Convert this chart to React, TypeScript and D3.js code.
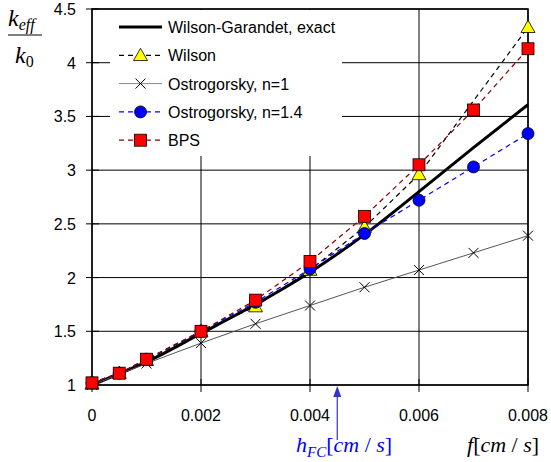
import React from "react";
import * as d3 from "d3";

const fValues = [0, 0.0005, 0.001, 0.002, 0.003, 0.004, 0.005, 0.006, 0.007, 0.008];
const exactValues = [1.0, 1.105, 1.215, 1.48, 1.75, 2.05, 2.4, 2.8, 3.21, 3.61];
const wilsonF = [0, 0.0005, 0.001, 0.002, 0.003, 0.004, 0.005, 0.006, 0.008];
const wilsonValues = [1.01, 1.11, 1.23, 1.5, 1.73, 2.07, 2.47, 2.96, 4.33];
const ostro1Values = [1.0, 1.1, 1.2, 1.39, 1.57, 1.74, 1.91, 2.07, 2.23, 2.39];
const ostro14Values = [1.02, 1.11, 1.24, 1.5, 1.77, 2.08, 2.41, 2.72, 3.03, 3.34];
const bpsValues = [1.02, 1.11, 1.24, 1.5, 1.79, 2.15, 2.57, 3.05, 3.56, 4.13];
const xTicks = [0, 0.002, 0.004, 0.006, 0.008];
const xTickLabels = ["0", "0.002", "0.004", "0.006", "0.008"];
const yTicks = [1, 1.5, 2, 2.5, 3, 3.5, 4, 4.5];
const yTickLabels = ["1", "1.5", "2", "2.5", "3", "3.5", "4", "4.5"];
const legendLabels = ["Wilson-Garandet, exact", "Wilson", "Ostrogorsky, n=1", "Ostrogorsky, n=1.4", "BPS"];
const hFC = 0.0045;

const L = 92, R = 528, T = 9, B = 385;
const sans = "'Liberation Sans', Arial, sans-serif";
const serif = "'Liberation Serif', 'Times New Roman', serif";

function Marker({ kind, x, y }: { kind: string; x: number; y: number }) {
  if (kind === "tri") {
    const s = 7;
    return <path d={`M${x},${y - s} L${x + s},${y + s * 0.75} L${x - s},${y + s * 0.75} Z`} fill="#ffff00" stroke="#000" strokeWidth={0.8} />;
  }
  if (kind === "circle") return <circle cx={x} cy={y} r={6} fill="#0000ff" stroke="#000" strokeWidth={0.8} />;
  if (kind === "square") return <rect x={x - 6} y={y - 6} width={12} height={12} fill="#ff0000" stroke="#000" strokeWidth={0.8} />;
  if (kind === "x") {
    const s = 5;
    return <path d={`M${x - s},${y - s} L${x + s},${y + s} M${x - s},${y + s} L${x + s},${y - s}`} stroke="#000" strokeWidth={1} fill="none" />;
  }
  return null;
}

export default function App() {
  const x = d3.scaleLinear().domain([0, 0.008]).range([L, R]);
  const y = d3.scaleLinear().domain([1, 4.5]).range([B, T]);
  const smooth = d3.line<number>().x((_, i) => x(fValues[i])).y((d) => y(d)).curve(d3.curveMonotoneX);

  const series = [
    { fs: wilsonF, vals: wilsonValues, stroke: "#000", dash: "5,4", w: 1.2, marker: "tri" },
    { fs: fValues, vals: ostro1Values, stroke: "#555", dash: "", w: 1, marker: "x" },
    { fs: fValues, vals: ostro14Values, stroke: "#0000ff", dash: "5,4", w: 1.2, marker: "circle" },
    { fs: fValues, vals: bpsValues, stroke: "#8b0000", dash: "5,4", w: 1.2, marker: "square" },
  ];

  const legendRows = [
    { stroke: "#000", dash: "", w: 3, marker: "" },
    { stroke: "#000", dash: "5,4", w: 1.2, marker: "tri" },
    { stroke: "#888", dash: "", w: 1, marker: "x" },
    { stroke: "#0000ff", dash: "5,4", w: 1.2, marker: "circle" },
    { stroke: "#8b0000", dash: "5,4", w: 1.2, marker: "square" },
  ];

  return (
    <svg width={551} height={462} style={{ position: "absolute", left: 0, top: 0 }}>
      <rect width={551} height={462} fill="#fff" />
      {xTicks.map((t) => (
        <line key={"gx" + t} x1={x(t)} x2={x(t)} y1={T} y2={B} stroke="#000" strokeWidth={1} />
      ))}
      {yTicks.map((t) => (
        <line key={"gy" + t} x1={L} x2={R} y1={y(t)} y2={y(t)} stroke="#000" strokeWidth={1} />
      ))}
      <rect x={110} y={T + 1} width={232} height={146} fill="#fff" />
      <rect x={L} y={T} width={R - L} height={B - T} fill="none" stroke="#000" strokeWidth={1.5} />
      {yTicks.map((t, i) => (
        <g key={"ty" + t}>
          <line x1={L - 6} x2={L + 7} y1={y(t)} y2={y(t)} stroke="#000" strokeWidth={1} />
          <text x={76} y={y(t) + 6} textAnchor="end" fontFamily={sans} fontSize={16}>{yTickLabels[i]}</text>
        </g>
      ))}
      {xTicks.map((t, i) => (
        <g key={"tx" + t}>
          <line x1={x(t)} x2={x(t)} y1={B - 6} y2={B + 7} stroke="#000" strokeWidth={1} />
          <text x={x(t)} y={421} textAnchor="middle" fontFamily={sans} fontSize={16}>{xTickLabels[i]}</text>
        </g>
      ))}
      <path d={smooth(exactValues) || ""} fill="none" stroke="#000" strokeWidth={3} />
      {series.map((s, si) => {
        const ln = d3.line<number>().x((_, i) => x(s.fs[i])).y((d) => y(d));
        return (
          <g key={"s" + si}>
            <path d={ln(s.vals) || ""} fill="none" stroke={s.stroke} strokeWidth={s.w} strokeDasharray={s.dash || undefined} />
            {s.vals.map((v, i) => (
              <Marker key={i} kind={s.marker} x={x(s.fs[i])} y={y(v)} />
            ))}
          </g>
        );
      })}
      {legendRows.map((r, i) => {
        const yy = 27 + i * 28.3;
        return (
          <g key={"lg" + i}>
            <line x1={119} x2={162} y1={yy} y2={yy} stroke={r.stroke} strokeWidth={r.w} strokeDasharray={r.dash || undefined} />
            {r.marker && <Marker kind={r.marker} x={140.5} y={yy} />}
            <text x={168} y={yy + 6} fontFamily={sans} fontSize={16}>{legendLabels[i]}</text>
          </g>
        );
      })}
      <text x={8} y={26} fontFamily={serif} fontStyle="italic" fontSize={24}>
        k<tspan fontSize={16} dy={4}>eff</tspan>
      </text>
      <line x1={8} x2={42} y1={35} y2={35} stroke="#000" strokeWidth={1} />
      <text x={15} y={63} fontFamily={serif} fontStyle="italic" fontSize={24}>
        k<tspan fontSize={16} dy={4} fontStyle="normal">0</tspan>
      </text>
      <text x={467} y={452} fontFamily={serif} fontSize={22}>
        <tspan fontStyle="italic">f</tspan>[<tspan fontStyle="italic">cm</tspan> / <tspan fontStyle="italic">s</tspan>]
      </text>
      <line x1={x(hFC)} x2={x(hFC)} y1={440} y2={394} stroke="#3333cc" strokeWidth={1.2} />
      <path d={`M${x(hFC)},${B + 1} L${x(hFC) - 4},${B + 12} L${x(hFC) + 4},${B + 12} Z`} fill="#3333cc" />
      <text x={296} y={452} fontFamily={serif} fontSize={22} fill="#0000ff">
        <tspan fontStyle="italic">h</tspan><tspan fontStyle="italic" fontSize={15} dy={5}>FC</tspan><tspan dy={-5}>[</tspan><tspan fontStyle="italic">cm</tspan> / <tspan fontStyle="italic">s</tspan>]
      </text>
    </svg>
  );
}
